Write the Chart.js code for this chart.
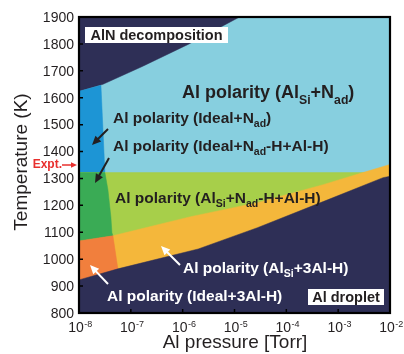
<!DOCTYPE html>
<html>
<head>
<meta charset="utf-8">
<script src="https://cdn.jsdelivr.net/npm/chart.js@4.4.1/dist/chart.umd.min.js"></script>
<style>
    html, body { margin: 0; padding: 0; background: #ffffff; }
    #wrap { width: 404px; height: 354px; }
</style>
</head>
<body>
<div id="wrap"><canvas id="phaseChart" width="404" height="354"></canvas></div>
<script>
// Axis ticks.
const yTicks = [800, 900, 1000, 1100, 1200, 1300, 1400, 1500, 1600, 1700, 1800, 1900];
const xExponents = [-8, -7, -6, -5, -4, -3, -2];

// Region outlines: Al pressure (Torr) and temperature (K).
const backP = [1e-8, 1e-2, 1e-2, 1e-8];
const backT = [800, 800, 1900, 1900];

const decompP = [1e-8, 1e-8, 2.9e-8, 1.7e-7, 1.3e-6, 1.25e-5];
const decompT = [1900, 1624, 1650, 1717, 1799, 1900];

const idealNadP = [1e-8, 3.16e-8, 2.65e-8, 1e-8];
const idealNadT = [1322, 1322, 1646, 1624];

const alsiNadHP = [1e-8, 1e-2, 1e-2, 1e-8];
const alsiNadHT = [800, 800, 1322, 1322];

const alsi3AlHP = [1e-8, 4.51e-8, 1.43e-6, 2.77e-5, 5.15e-4, 3.02e-3, 1e-2, 1e-2, 1e-8];
const alsi3AlHT = [1087, 1087, 1158, 1210, 1277, 1322, 1352, 800, 800];

const idealNadHP = [1e-8, 3.16e-8, 3.61e-8, 4.12e-8, 4.32e-8, 4.51e-8, 1e-8];
const idealNadHT = [1322, 1322, 1259, 1158, 1098, 1087, 1068];

const ideal3AlHP = [1e-8, 4.51e-8, 5.62e-8, 6.2e-8, 1e-8];
const ideal3AlHT = [1068, 1087, 964, 880, 880];

const dropletP = [1e-8, 5.62e-8, 2.0e-6, 2.77e-5, 5.15e-4, 7.33e-3, 1e-2, 1e-2, 1e-8];
const dropletT = [923, 964, 1038, 1117, 1214, 1303, 1308, 800, 800];

const FONT = '"Liberation Sans", Arial, sans-serif';
const INK = '#231f20';

// Bottom layer first.
const regions = [
    { p: backP, t: backT, color: '#87cfdf' },
    { p: decompP, t: decompT, color: '#2e2f56' },
    { p: idealNadP, t: idealNadT, color: '#1d95d5' },
    { p: alsiNadHP, t: alsiNadHT, color: '#a7cf4a' },
    { p: alsi3AlHP, t: alsi3AlHT, color: '#f4b73b' },
    { p: idealNadHP, t: idealNadHT, color: '#3aab55' },
    { p: ideal3AlHP, t: ideal3AlHT, color: '#f17f3d' },
    { p: dropletP, t: dropletT, color: '#2e2f56' }
];

const datasets = regions.map((r, i) => ({
    data: r.p.map((p, k) => ({ x: p, y: r.t[k] })),
    showLine: true,
    fill: 'shape',
    backgroundColor: r.color,
    borderColor: r.color,
    borderWidth: 0.5,
    pointRadius: 0,
    tension: 0,
    order: regions.length - i
}));

// Text with subscripts. parts = [[text, isSub], ...]
function drawRich(ctx, x, y, parts, size, color) {
    ctx.save();
    ctx.fillStyle = color;
    ctx.textAlign = 'left';
    ctx.textBaseline = 'alphabetic';
    const base = y + size * 0.36;
    let cx = x;
    parts.forEach(([text, sub]) => {
        const s = sub ? size * 0.68 : size;
        ctx.font = `bold ${s}px ${FONT}`;
        ctx.fillText(text, cx, sub ? base + size * 0.28 : base);
        cx += ctx.measureText(text).width;
    });
    ctx.restore();
}

function arrow(ctx, x1, y1, x2, y2, color, width, head) {
    const a = Math.atan2(y2 - y1, x2 - x1);
    const c = Math.cos(a), s = Math.sin(a);
    ctx.save();
    ctx.strokeStyle = color;
    ctx.fillStyle = color;
    ctx.lineWidth = width;
    ctx.beginPath();
    ctx.moveTo(x1, y1);
    ctx.lineTo(x2 - c * head * 0.7, y2 - s * head * 0.7);
    ctx.stroke();
    ctx.beginPath();
    ctx.moveTo(x2, y2);
    ctx.lineTo(x2 - head * c + head * 0.45 * s, y2 - head * s - head * 0.45 * c);
    ctx.lineTo(x2 - head * c - head * 0.45 * s, y2 - head * s + head * 0.45 * c);
    ctx.closePath();
    ctx.fill();
    ctx.restore();
}

function boxLabel(ctx, x1, y1, x2, y2, text, size) {
    ctx.save();
    ctx.fillStyle = '#ffffff';
    ctx.fillRect(x1, y1, x2 - x1, y2 - y1);
    ctx.fillStyle = INK;
    ctx.font = `bold ${size}px ${FONT}`;
    ctx.textAlign = 'center';
    ctx.textBaseline = 'middle';
    ctx.fillText(text, (x1 + x2) / 2, (y1 + y2) / 2 + 1);
    ctx.restore();
}

const decorations = {
    id: 'decorations',
    afterDraw(chart) {
        const ctx = chart.ctx;
        const area = chart.chartArea;
        const xs = chart.scales.x;
        const ys = chart.scales.y;

        // Tick marks pointing inward.
        ctx.save();
        ctx.strokeStyle = '#000000';
        ctx.lineWidth = 1.5;
        ctx.beginPath();
        yTicks.forEach(v => {
            const y = ys.getPixelForValue(v);
            ctx.moveTo(area.left, y);
            ctx.lineTo(area.left + 4, y);
        });
        xExponents.forEach(e => {
            const x = xs.getPixelForValue(Math.pow(10, e));
            ctx.moveTo(x, area.bottom);
            ctx.lineTo(x, area.bottom - 4);
        });
        ctx.stroke();

        // Frame.
        ctx.lineWidth = 2.2;
        ctx.strokeRect(area.left, area.top, area.right - area.left, area.bottom - area.top);
        ctx.restore();

        // Y tick labels.
        ctx.save();
        ctx.fillStyle = INK;
        ctx.font = `14px ${FONT}`;
        ctx.textAlign = 'right';
        ctx.textBaseline = 'middle';
        yTicks.forEach(v => ctx.fillText(String(v), area.left - 5, ys.getPixelForValue(v) + 1));

        // X tick labels, 10 with a raised exponent.
        xExponents.forEach(e => {
            const x = xs.getPixelForValue(Math.pow(10, e));
            ctx.font = `14px ${FONT}`;
            ctx.textAlign = 'center';
            ctx.textBaseline = 'alphabetic';
            ctx.fillText('10', x - 3, 332);
            const w = ctx.measureText('10').width;
            ctx.font = `9px ${FONT}`;
            ctx.textAlign = 'left';
            ctx.fillText(String(e), x - 3 + w / 2 + 0.5, 327);
        });

        // Axis titles.
        ctx.font = `19px ${FONT}`;
        ctx.textAlign = 'center';
        ctx.textBaseline = 'middle';
        ctx.fillText('Al pressure [Torr]', 235, 343);
        ctx.translate(22, 162);
        ctx.rotate(-Math.PI / 2);
        ctx.fillText('Temperature (K)', 0, 0);
        ctx.restore();

        // Experiment marker.
        ctx.save();
        ctx.fillStyle = '#e8302e';
        ctx.font = `bold 12px ${FONT}`;
        ctx.textAlign = 'right';
        ctx.textBaseline = 'middle';
        ctx.fillText('Expt.', 62, 165);
        ctx.restore();
        arrow(ctx, 62, 165, 77, 165, '#e8302e', 1.5, 6);

        // Region labels.
        boxLabel(ctx, 85, 27, 228, 43, 'AlN decomposition', 14.5);
        boxLabel(ctx, 308, 289, 384, 305, 'Al droplet', 14.5);

        drawRich(ctx, 182, 92, [['Al polarity (Al'], ['Si', true], ['+N'], ['ad', true], [')']], 18, INK);
        drawRich(ctx, 113, 117, [['Al polarity (Ideal+N'], ['ad', true], [')']], 15.5, INK);
        drawRich(ctx, 113, 145, [['Al polarity (Ideal+N'], ['ad', true], ['-H+Al-H)']], 15.5, INK);
        drawRich(ctx, 115, 197, [['Al polarity (Al'], ['Si', true], ['+N'], ['ad', true], ['-H+Al-H)']], 15.5, INK);
        drawRich(ctx, 183, 267, [['Al polarity (Al'], ['Si', true], ['+3Al-H)']], 15.5, '#ffffff');
        drawRich(ctx, 107, 295, [['Al polarity (Ideal+3Al-H)']], 15.5, '#ffffff');

        arrow(ctx, 108, 129, 92, 145, INK, 2, 9);
        arrow(ctx, 109, 158, 95, 183, INK, 2, 9);
        arrow(ctx, 180, 265, 161, 246, '#ffffff', 2, 9);
        arrow(ctx, 108, 284, 90, 265, '#ffffff', 2, 9);
    }
};

new Chart(document.getElementById('phaseChart').getContext('2d'), {
    type: 'scatter',
    data: { datasets: datasets },
    options: {
        responsive: false,
        animation: false,
        events: [],
        layout: {
            padding: { left: 79, right: 14, top: 17, bottom: 41 }
        },
        plugins: {
            legend: { display: false },
            tooltip: { enabled: false },
            filler: { propagate: false }
        },
        scales: {
            x: {
                type: 'logarithmic',
                min: 1e-8,
                max: 1e-2,
                display: false
            },
            y: {
                type: 'linear',
                min: 800,
                max: 1900,
                display: false
            }
        }
    },
    plugins: [decorations]
});
</script>
</body>
</html>
